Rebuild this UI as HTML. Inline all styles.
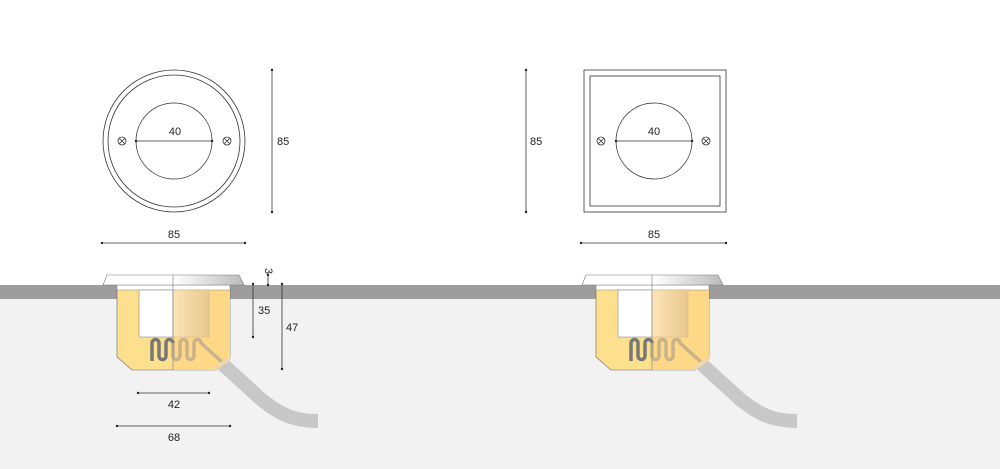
<!DOCTYPE html>
<html><head><style>body{margin:0;background:#fff}svg{display:block}text{font-family:"Liberation Sans",sans-serif;font-size:11px;fill:#222}</style></head>
<body>
<svg width="1000" height="469" viewBox="0 0 1000 469" xmlns="http://www.w3.org/2000/svg">
<defs>
<linearGradient id="fl" x1="0" x2="1"><stop offset="0" stop-color="#fff"/><stop offset="0.5" stop-color="#fff"/><stop offset="1" stop-color="#bbb"/></linearGradient>
<linearGradient id="tr" x1="0" x2="1"><stop offset="0" stop-color="#fde4b8"/><stop offset="1" stop-color="#e8c88e"/></linearGradient>
<g id="sec">
<path d="M218,360 L262,400 C282,416 296,421 318,421" fill="none" stroke="#c8c8c8" stroke-width="14"/>
<path d="M117,286 L230,286 L230,357 L216,370 L132,370 L117,357 Z" fill="#fde08e" stroke="#666" stroke-width="0.6"/>
<path d="M173,286 L230,286 L230,357 L216,370 L173,370 Z" fill="#fed887"/>
<rect x="117" y="285" width="113" height="5" fill="#fff" stroke="#888" stroke-width="0.5"/>
<rect x="139" y="290" width="34" height="47" fill="#fff" stroke="#777" stroke-width="0.5"/>
<rect x="173" y="290" width="36" height="47" fill="url(#tr)" stroke="#c9b48e" stroke-width="0.5"/>
<path d="M152,361 V343 a3.5,3.5 0 0 1 7,0 V356 a3.5,3.5 0 0 0 7,0 V343 a3.5,3.5 0 0 1 7,0" fill="none" stroke="#777" stroke-width="3.5"/>
<path d="M173,343 V356 a3.5,3.5 0 0 0 7,0 V343 a3.5,3.5 0 0 1 7,0 V356 a3.5,3.5 0 0 0 7,0 V343 a3.5,3.5 0 0 1 7,0 L222,362" fill="none" stroke="#c9b38a" stroke-width="3.5"/>
<path d="M216,368 L230,358" stroke="#f0d9a8" stroke-width="4"/>
<path d="M107,275 L239,275 L244,285 L103,285 Z" fill="url(#fl)" stroke="#777" stroke-width="0.6"/>
<line x1="173" y1="275" x2="173" y2="370" stroke="#888" stroke-width="0.7"/>
</g>
</defs>
<rect x="0" y="285" width="1000" height="14" fill="#9d9d9d"/>
<rect x="0" y="299" width="1000" height="170" fill="#f2f2f2"/>
<use href="#sec"/>
<use href="#sec" transform="translate(479,0)"/>
<g fill="none" stroke="#333" stroke-width="0.8">
<circle cx="174" cy="141" r="71"/><circle cx="174" cy="141" r="66"/><circle cx="174" cy="141" r="38"/>
<rect x="584" y="70" width="142" height="142"/><rect x="590" y="76" width="130" height="130"/><circle cx="654" cy="141" r="38"/>
<circle cx="122" cy="141" r="4"/><path d="M119,138 l6,6 M125,138 l-6,6"/>
<circle cx="227" cy="141" r="4"/><path d="M224,138 l6,6 M230,138 l-6,6"/>
<circle cx="601" cy="141" r="4"/><path d="M598,138 l6,6 M604,138 l-6,6"/>
<circle cx="706" cy="141" r="4"/><path d="M703,138 l6,6 M709,138 l-6,6"/>
<path d="M136,141 H212 M616,141 H692 M272,70 V212 M526,70 V212 M102,243 H245 M581,243 H726 M253,284 V337 M282,284 V369 M268,275 V285 M138,393 H209 M117,426 H230"/>
</g>
<g fill="#222">
<circle cx="136" cy="141" r="1.2"/><circle cx="212" cy="141" r="1.2"/><circle cx="616" cy="141" r="1.2"/><circle cx="692" cy="141" r="1.2"/>
<circle cx="272" cy="70" r="1.2"/><circle cx="272" cy="212" r="1.2"/><circle cx="526" cy="70" r="1.2"/><circle cx="526" cy="212" r="1.2"/>
<circle cx="102" cy="243" r="1.2"/><circle cx="245" cy="243" r="1.2"/><circle cx="581" cy="243" r="1.2"/><circle cx="726" cy="243" r="1.2"/>
<circle cx="253" cy="284" r="1.2"/><circle cx="253" cy="337" r="1.2"/><circle cx="282" cy="284" r="1.2"/><circle cx="282" cy="369" r="1.2"/><circle cx="268" cy="275" r="1.2"/><circle cx="268" cy="285" r="1.2"/>
<circle cx="138" cy="393" r="1.2"/><circle cx="209" cy="393" r="1.2"/><circle cx="117" cy="426" r="1.2"/><circle cx="230" cy="426" r="1.2"/>
</g>
<text x="175" y="135" text-anchor="middle">40</text>
<text x="654" y="135" text-anchor="middle">40</text>
<text x="277" y="145">85</text>
<text x="530" y="145">85</text>
<text x="174" y="238" text-anchor="middle">85</text>
<text x="654" y="238" text-anchor="middle">85</text>
<text x="258" y="314">35</text>
<text x="286" y="331">47</text>
<text transform="translate(265,268) rotate(90)">3</text>
<text x="174" y="408" text-anchor="middle">42</text>
<text x="174" y="441" text-anchor="middle">68</text>
</svg>
</body></html>
